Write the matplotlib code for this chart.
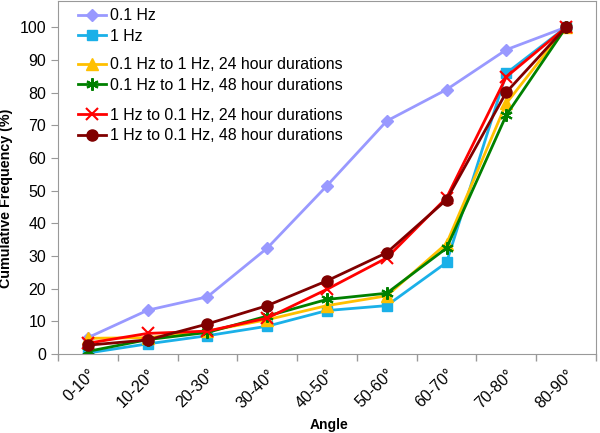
import matplotlib.pyplot as plt
import numpy as np

plt.rcParams['font.family'] = ['Liberation Sans', 'DejaVu Sans']

angles = ['0-10°', '10-20°', '20-30°', '30-40°', '40-50°',
          '50-60°', '60-70°', '70-80°', '80-90°']

hz01 = [5.0, 13.4, 17.5, 32.4, 51.5, 71.3, 80.9, 93.1, 100]
hz1 = [0.3, 3.1, 5.6, 8.5, 13.3, 14.8, 28.0, 85.9, 100]
up_24h = [4.8, 5.0, 7.0, 10.5, 14.8, 17.8, 33.8, 76.7, 100]
up_48h = [0.8, 4.4, 6.6, 11.6, 16.7, 18.6, 32.4, 73.1, 100]
down_24h = [3.3, 6.3, 7.0, 11.0, 19.8, 29.4, 47.8, 84.8, 100]
down_48h = [2.7, 4.3, 9.2, 14.8, 22.4, 31.0, 47.2, 80.1, 100]

fig = plt.figure(figsize=(6, 4.33), dpi=100)
ax = fig.add_axes([58 / 600, (433 - 354) / 433, 538 / 600, 353 / 433])

x = np.arange(len(angles))

l1, = ax.plot(x, hz01, color='#9999FF', marker='D', ms=6, lw=2, label='0.1 Hz')
l2, = ax.plot(x, hz1, color='#1AB0E8', marker='s', ms=7, lw=2, label='1 Hz')
l3, = ax.plot(x, up_24h, color='#FFC000', marker='^', ms=8, lw=2,
              label='0.1 Hz to 1 Hz, 24 hour durations')
l4, = ax.plot(x, up_48h, color='#008000', marker=(6, 2, 0), ms=9, mew=1.5, lw=2,
              label='0.1 Hz to 1 Hz, 48 hour durations')
l5, = ax.plot(x, down_24h, color='#FF0000', marker='x', ms=8, mew=1.5, lw=2,
              label='1 Hz to 0.1 Hz, 24 hour durations')
l6, = ax.plot(x, down_48h, color='#800000', marker='o', ms=8, lw=2,
              label='1 Hz to 0.1 Hz, 48 hour durations')

ax.set_xlim(-0.5, len(angles) - 0.5)
ax.set_ylim(0, 108)
ax.set_yticks(np.arange(0, 101, 10))
ax.set_xticks(x)
ax.set_xticklabels(angles, rotation=45, ha='right', rotation_mode='anchor', fontsize=11.5)
ax.set_xticks(np.arange(-0.5, len(angles)), minor=True)
ax.tick_params(axis='x', which='major', length=0, pad=9)
ax.tick_params(axis='x', which='minor', length=5, color='#999999', width=1)
ax.tick_params(axis='y', length=5, color='#999999', labelsize=11.5)

for s in ax.spines.values():
    s.set_color('#999999')

ax.set_xlabel('Angle', fontsize=10, fontweight='bold')
ax.xaxis.set_label_coords(0.504, -0.181)
ax.set_ylabel('Cumulative Frequency (%)', fontsize=10.3, fontweight='bold')
ax.yaxis.set_label_coords(-0.083, 0.442)

legkw = dict(frameon=False, fontsize=11.4, handlelength=1.8, handletextpad=0.25,
             labelspacing=0.35, borderaxespad=0, borderpad=0, loc='upper left')
g1 = ax.legend(handles=[l1, l2], bbox_to_anchor=(0.037, 0.98), **legkw)
ax.add_artist(g1)
g2 = ax.legend(handles=[l3, l4], bbox_to_anchor=(0.037, 0.84), **legkw)
ax.add_artist(g2)
ax.legend(handles=[l5, l6], bbox_to_anchor=(0.037, 0.698), **legkw)

fig.savefig('out.png', dpi=100)
